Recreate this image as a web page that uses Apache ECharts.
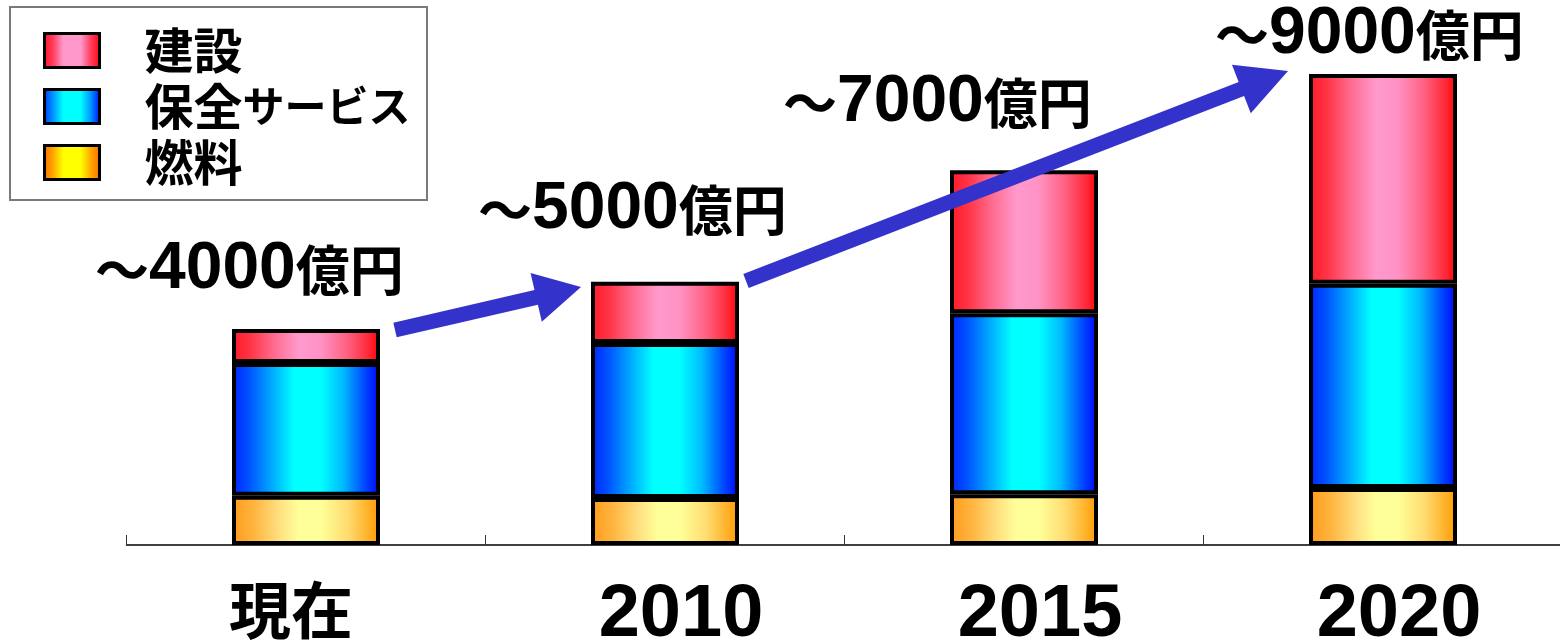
<!DOCTYPE html>
<html><head><meta charset="utf-8">
<script src="https://cdn.jsdelivr.net/npm/echarts@6/dist/echarts.min.js"></script>
<style>html,body{margin:0;padding:0;background:#fff}#c{width:1560px;height:642px}</style>
</head><body><div id="c"></div>
<script>
// ---- data (億円) ----
var categories = ['現在', '2010', '2015', '2020'];
var fuel = [940, 900, 970, 1090];          // 燃料
var maintenance = [2540, 2960, 3460, 3900]; // 保全サービス
var construction = [650, 1170, 2730, 4010]; // 建設
var totalLabels = ['4000', '5000', '7000', '9000'];
var seriesNames = ['建設', '保全サービス', '燃料'];

function grad(stops) {
  return { type: 'linear', x: 0, y: 0, x2: 1, y2: 0,
    colorStops: stops.map(function (s) { return { offset: s[0], color: s[1] }; }) };
}
var redBar = grad([[0,'#ff1a2a'],[0.12,'#ff3344'],[0.28,'#ff6a8e'],[0.45,'#ff99cc'],[0.6,'#ff92c4'],[0.78,'#ff6080'],[0.92,'#ff2a3a'],[1,'#ff0000']]);
var blueBar = grad([[0,'#0022ff'],[0.12,'#0055ff'],[0.27,'#00aaff'],[0.42,'#00ffff'],[0.6,'#00ffff'],[0.75,'#00bbff'],[0.88,'#0055ff'],[1,'#0000ff']]);
var fuelBar = grad([[0,'#ff9a1a'],[0.15,'#ffb540'],[0.32,'#ffe080'],[0.45,'#ffff99'],[0.6,'#ffff99'],[0.78,'#ffdc70'],[1,'#ff9900']]);
var redIcon = grad([[0,'#ff1020'],[0.18,'#ff4060'],[0.35,'#ff99cc'],[0.65,'#ff99cc'],[0.82,'#ff4060'],[1,'#ff0000']]);
var blueIcon = grad([[0,'#0030ff'],[0.18,'#0099ff'],[0.35,'#00ffff'],[0.65,'#00ffff'],[0.82,'#0099ff'],[1,'#0000ff']]);
var fuelIcon = grad([[0,'#ff6600'],[0.18,'#ffaa00'],[0.35,'#ffff00'],[0.65,'#ffff00'],[0.82,'#ffaa00'],[1,'#ff6600']]);

var chart = echarts.init(document.getElementById('c'), null, { renderer: 'canvas' });

function arrow(tail, tip, shaftW, headL, headW) {
  var dx = tip[0] - tail[0], dy = tip[1] - tail[1];
  var len = Math.sqrt(dx * dx + dy * dy);
  var ux = dx / len, uy = dy / len, nx = -uy, ny = ux;
  var bx = tip[0] - ux * headL, by = tip[1] - uy * headL;
  var h = shaftW / 2;
  return [
    [tail[0] + nx * h, tail[1] + ny * h],
    [bx + nx * h, by + ny * h],
    [bx + nx * headW, by + ny * headW],
    tip,
    [bx - nx * headW, by - ny * headW],
    [bx - nx * h, by - ny * h],
    [tail[0] - nx * h, tail[1] - ny * h]
  ];
}

var labelPos = [[95, 270], [478, 210], [783, 103], [1215, 35]];
var richTotal = {
  t: { fontFamily: 'Noto Sans CJK JP', fontWeight: 'bold', fontSize: 54, fill: '#000' },
  n: { fontFamily: 'Liberation Sans', fontWeight: 'bold', fontSize: 66, fill: '#000' },
  c: { fontFamily: 'Noto Sans CJK JP', fontWeight: 'bold', fontSize: 54, fill: '#000' }
};

var graphics = [
  { type: 'rect', shape: { x: 10, y: 7, width: 417, height: 193 }, style: { fill: 'none', stroke: '#7a7a7a', lineWidth: 2 }, z: 1 },
  { type: 'polygon', shape: { points: arrow([395, 330], [581, 287], 15, 46, 25) }, style: { fill: '#3333cc' }, z: 20 },
  { type: 'polygon', shape: { points: arrow([746, 281], [1288, 71], 15, 50, 26) }, style: { fill: '#3333cc' }, z: 20 }
];
totalLabels.forEach(function (v, i) {
  graphics.push({
    type: 'text', x: labelPos[i][0], y: labelPos[i][1], z: 30,
    style: { text: '{t|～}{n|' + v + '}{c|億円}', rich: richTotal, verticalAlign: 'middle', align: 'left' }
  });
});

var legendRich = {
  k: { fontFamily: 'Noto Sans CJK JP', fontWeight: 'bold', fontSize: 49, color: '#000', lineHeight: 34 },
  s: { fontFamily: 'Noto Sans CJK JP', fontWeight: 'bold', fontSize: 42, color: '#000', lineHeight: 34 }
};

var option = {
  animation: false,
  backgroundColor: '#fff',
  grid: { left: 126.5, right: -2.5, top: 21.7, bottom: 97, containLabel: false, outerBoundsMode: 'none' },
  legend: {
    orient: 'vertical', left: 38, top: 21, padding: 5,
    itemWidth: 55, itemHeight: 34, itemGap: 7,
    icon: 'rect',
    selectedMode: false,
    formatter: function (name) {
      if (name === '保全サービス') return '{k|保全}{s|サービス}';
      return '{k|' + name + '}';
    },
    textStyle: { fontFamily: 'Noto Sans CJK JP', fontWeight: 'bold', fontSize: 46, color: '#000', lineHeight: 34, padding: [0, 0, 0, 40], rich: legendRich },
    data: [
      { name: '建設', itemStyle: { color: redIcon, borderColor: '#000', borderWidth: 3 } },
      { name: '保全サービス', itemStyle: { color: blueIcon, borderColor: '#000', borderWidth: 3 } },
      { name: '燃料', itemStyle: { color: fuelIcon, borderColor: '#000', borderWidth: 3 } }
    ]
  },
  xAxis: {
    type: 'category', data: categories,
    axisLine: { lineStyle: { color: '#000', width: 1.5 } },
    axisTick: { show: true, interval: 0, inside: true, length: 10, lineStyle: { color: '#333', width: 1 } },
    axisLabel: {
      margin: 34,
      formatter: function (v, i) { return '{l' + i + '|' + v + '}'; },
      rich: {
        l0: { fontFamily: 'Noto Sans CJK JP', fontWeight: 'bold', fontSize: 62, color: '#000', padding: [0, 30, 0, 0] },
        l1: { fontFamily: 'Liberation Sans', fontWeight: 'bold', fontSize: 74, color: '#000', padding: [0, 0, 0, 32] },
        l2: { fontFamily: 'Liberation Sans', fontWeight: 'bold', fontSize: 74, color: '#000', padding: [0, 0, 0, 32] },
        l3: { fontFamily: 'Liberation Sans', fontWeight: 'bold', fontSize: 74, color: '#000', padding: [0, 0, 0, 32] }
      }
    }
  },
  yAxis: { type: 'value', min: 0, max: 10000, show: false },
  series: [
    { name: seriesNames[2], type: 'bar', stack: 'total', data: fuel, barWidth: 148,
      itemStyle: { color: fuelBar, borderColor: '#000', borderWidth: 4 } },
    { name: seriesNames[1], type: 'bar', stack: 'total', data: maintenance, barWidth: 148,
      itemStyle: { color: blueBar, borderColor: '#000', borderWidth: 4 } },
    { name: seriesNames[0], type: 'bar', stack: 'total', data: construction, barWidth: 148,
      itemStyle: { color: redBar, borderColor: '#000', borderWidth: 4 } }
  ],
  graphic: graphics
};
chart.setOption(option);
</script></body></html>
